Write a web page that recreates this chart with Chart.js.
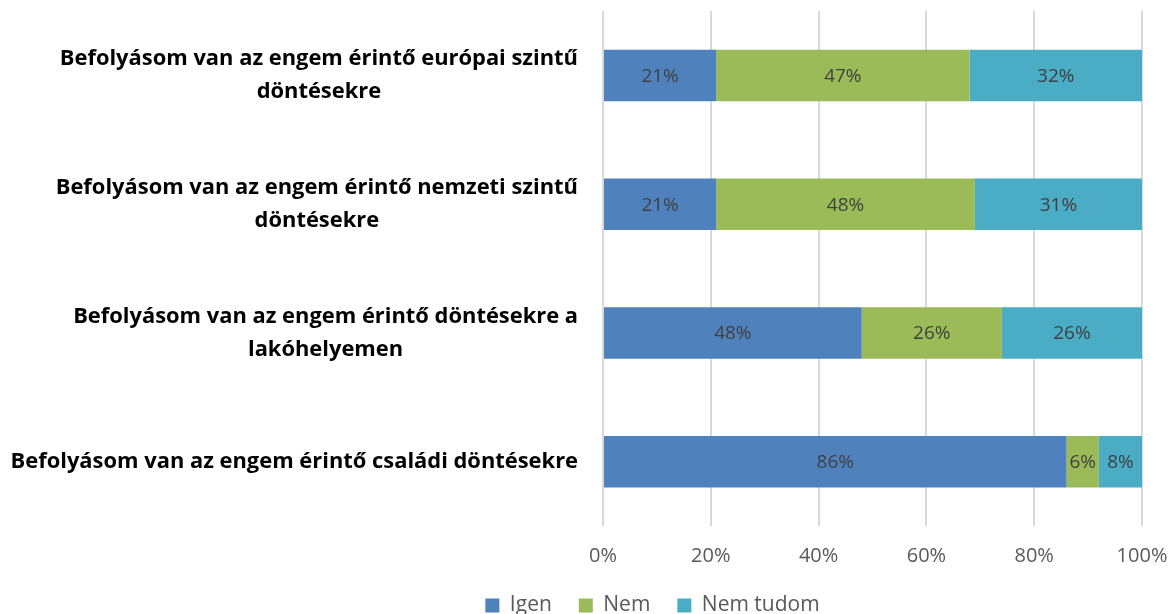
<!DOCTYPE html>
<html>
<head>
<meta charset="utf-8">
<script src="https://cdn.jsdelivr.net/npm/chart.js@4/dist/chart.umd.min.js"></script>
<style>
	html, body { margin: 0; padding: 0; background: #fff; }
	#wrap { width: 1171px; height: 614px; }
</style>
</head>
<body>
<div id="wrap"><canvas id="chart"></canvas></div>
<script>
// categories, top to bottom
var categories = [
	["Befolyásom van az engem érintő európai szintű", "döntésekre"],
	["Befolyásom van az engem érintő nemzeti szintű", "döntésekre"],
	["Befolyásom van az engem érintő döntésekre a", "lakóhelyemen"],
	["Befolyásom van az engem érintő családi döntésekre"]
]
var seriesNames = ["Igen", "Nem", "Nem tudom"]
var igen     = [21, 21, 48, 86]
var nem      = [47, 48, 26, 6]
var nemTudom = [32, 31, 26, 8]
var tickValues = [0, 20, 40, 60, 80, 100]

var FONT = "'Open Sans', sans-serif"
var colors = ["#4F81BD", "#9BBB59", "#4BACC6"]

// category labels: block right aligned, lines centered in the block
var categoryLabels = {
	id: "categoryLabels",
	afterDraw: function(chart) {
		var ctx = chart.ctx
		var y = chart.scales.y
		ctx.save()
		// size the font so the longest line spans like the original
		ctx.font = "bold 20px " + FONT
		var longest = 0
		categories.forEach(function(lines) {
			lines.forEach(function(l) { longest = Math.max(longest, ctx.measureText(l).width) })
		})
		var size = Math.min(22, 20 * 568 / longest)
		ctx.font = "bold " + size.toFixed(1) + "px " + FONT
		ctx.fillStyle = "#000"
		ctx.textAlign = "center"
		ctx.textBaseline = "middle"
		var right = 578
		var lineH = 33
		categories.forEach(function(lines, i) {
			var w = 0
			lines.forEach(function(l) { w = Math.max(w, ctx.measureText(l).width) })
			var cx = right - w / 2
			var cy = y.getPixelForValue(i) - (lines.length - 1) * lineH / 2
			lines.forEach(function(l, k) { ctx.fillText(l, cx, cy + k * lineH) })
		})
		ctx.restore()
	}
}

// value labels in the middle of each segment
var valueLabels = {
	id: "valueLabels",
	afterDatasetsDraw: function(chart) {
		var ctx = chart.ctx
		ctx.save()
		ctx.font = "19px " + FONT
		ctx.fillStyle = "#404040"
		ctx.textAlign = "center"
		ctx.textBaseline = "middle"
		chart.data.datasets.forEach(function(ds, di) {
			chart.getDatasetMeta(di).data.forEach(function(bar, i) {
				var p = bar.getProps(["x", "y", "base"], true)
				ctx.fillText(ds.data[i] + "%", (p.x + p.base) / 2, p.y + 1)
			})
		})
		ctx.restore()
	}
}

// legend: wide gaps between items, a short box at the very bottom,
// and the row pushed a bit right of the canvas centre like the original
var legendFit = {
	id: "legendFit",
	afterInit: function(chart) {
		var legend = chart.legend
		var fit = legend.fit
		legend.fit = function() {
			fit.call(this)
			this.height = 46
			if (this.lineWidths && this.lineWidths.length) this.lineWidths[0] -= 134
		}
	}
}

new Chart(document.getElementById("chart"), {
	type: "bar",
	data: {
		labels: categories,
		datasets: [
			{ label: seriesNames[0], data: igen,     backgroundColor: colors[0] },
			{ label: seriesNames[1], data: nem,      backgroundColor: colors[1] },
			{ label: seriesNames[2], data: nemTudom, backgroundColor: colors[2] }
		]
	},
	options: {
		indexAxis: "y",
		responsive: true,
		maintainAspectRatio: false,
		animation: false,
		datasets: { bar: { barPercentage: 0.4, categoryPercentage: 1.0, borderWidth: 0 } },
		layout: { padding: { top: 11, right: 0, bottom: 0, left: 0 } },
		scales: {
			x: {
				stacked: true,
				min: 0,
				max: 100,
				afterBuildTicks: function(scale) {
					scale.ticks = tickValues.map(function(v) { return { value: v } })
				},
				afterFit: function(scale) {
					scale.paddingRight = 29
					scale.paddingLeft = 0
					scale.height = 42
				},
				grid: { color: "#d9d9d9", lineWidth: 2, drawTicks: false },
				border: { display: false },
				ticks: {
					padding: 18,
					color: "#595959",
					font: { family: FONT, size: 20 },
					callback: function(v) { return v + "%" }
				}
			},
			y: {
				stacked: true,
				grid: { display: false },
				border: { display: false },
				ticks: { display: false },
				afterFit: function(scale) { scale.width = 603 }
			}
		},
		plugins: {
			tooltip: { enabled: false },
			legend: {
				position: "bottom",
				labels: {
					color: "#595959",
					font: { family: FONT, size: 21 },
					boxWidth: 14,
					boxHeight: 14,
					padding: 27
				}
			}
		}
	},
	plugins: [categoryLabels, valueLabels, legendFit]
})
</script>
</body>
</html>
